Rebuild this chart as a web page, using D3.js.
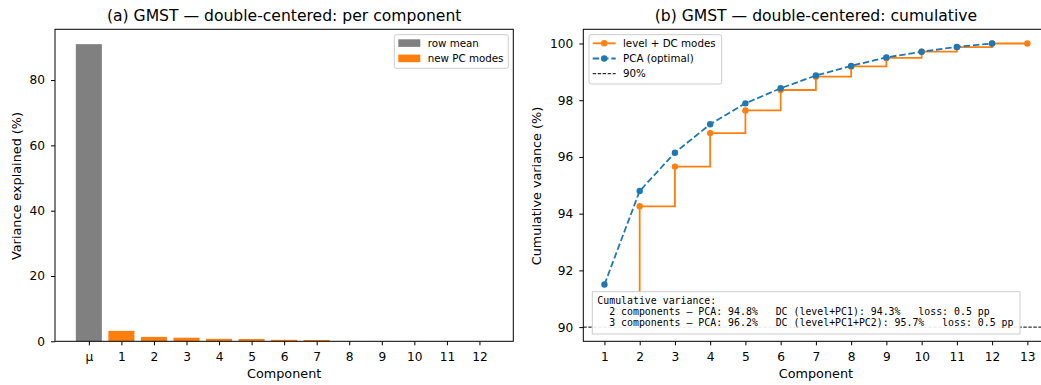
<!DOCTYPE html>
<html lang="en">
<head>
<meta charset="utf-8">
<script src="https://d3js.org/d3.v7.min.js"></script>
<style>
  body { margin: 0; background: #fff; }
  svg { font-family: "DejaVu Sans", sans-serif; display: block; }
  .mono { font-family: "DejaVu Sans Mono", monospace; }
</style>
</head>
<body>
<div id="chart"></div>
<script>
// ---- data ----
var barLabels = ["μ", "1", "2", "3", "4", "5", "6", "7", "8", "9", "10", "11", "12"];
var rowMean = 91.0;
var pcModes = [3.2, 1.35, 1.1, 0.75, 0.7, 0.45, 0.4, 0.05, 0.04, 0.03, 0.02, 0.01];

var dcComps = [1, 2, 3, 4, 5, 6, 7, 8, 9, 10, 11, 12, 13];
var dcCum = [91.0, 94.26, 95.66, 96.84, 97.64, 98.36, 98.83, 99.19, 99.49, 99.71, 99.87, 100.0, 100.0];
var pcaComps = [1, 2, 3, 4, 5, 6, 7, 8, 9, 10, 11, 12];
var pcaCum = [91.5, 94.8, 96.15, 97.15, 97.89, 98.42, 98.87, 99.21, 99.51, 99.71, 99.88, 100.0];
var yTicksA = [0, 20, 40, 60, 80];
var yTicksB = [90, 92, 94, 96, 98, 100];
var boxLines = [
  "Cumulative variance:",
  "  2 components \u2013 PCA: 94.8%   DC (level+PC1): 94.3%   loss: 0.5 pp",
  "  3 components \u2013 PCA: 96.2%   DC (level+PC1+PC2): 95.7%   loss: 0.5 pp"
];

var W = 1041, H = 385;
var orange = "#ff7f0e", blue = "#1f77b4", grey = "#808080";
var tickFont = "12.2px", labelFont = "12.8px";

var svg = d3.select("#chart").append("svg")
    .attr("width", W).attr("height", H);

function styleAxis(g) {
  g.select(".domain").remove();
  g.attr("font-family", "DejaVu Sans").attr("font-size", null);
  g.selectAll("text").style("font-size", tickFont).style("font-family", "DejaVu Sans");
}

// ---------- panel (a) ----------
var a = {left: 55, right: 513.3, top: 29.3, bottom: 341.3};
var xa = d3.scaleLinear().domain([-1.04, 13.04]).range([a.left, a.right]);
var ya = d3.scaleLinear().domain([0, 95.55]).range([a.bottom, a.top]);
var barVals = [rowMean].concat(pcModes);

var ga = svg.append("g");
ga.selectAll("rect.bar").data(barVals).enter().append("rect")
    .attr("class", "bar")
    .attr("x", function(d, i) { return xa(i - 0.4); })
    .attr("width", function(d, i) { return xa(i + 0.4) - xa(i - 0.4); })
    .attr("y", function(d) { return ya(d); })
    .attr("height", function(d) { return ya(0) - ya(d); })
    .attr("fill", function(d, i) { return i === 0 ? grey : orange; });

ga.append("g")
    .attr("transform", "translate(0," + a.bottom + ")")
    .call(d3.axisBottom(xa).tickValues(d3.range(barLabels.length))
        .tickFormat(function(i) { return barLabels[i]; }).tickSize(4).tickPadding(7))
    .call(styleAxis);
ga.append("g")
    .attr("transform", "translate(" + a.left + ",0)")
    .call(d3.axisLeft(ya).tickValues(yTicksA).tickSize(4).tickPadding(6))
    .call(styleAxis);
ga.append("rect")
    .attr("x", a.left).attr("y", a.top)
    .attr("width", a.right - a.left).attr("height", a.bottom - a.top)
    .attr("fill", "none").attr("stroke", "#000").attr("stroke-width", 1);

ga.append("text").attr("x", (a.left + a.right) / 2).attr("y", 21)
    .attr("text-anchor", "middle").style("font-size", "15.6px")
    .text("(a) GMST \u2014 double-centered: per component");
ga.append("text").attr("x", (a.left + a.right) / 2).attr("y", 378)
    .attr("text-anchor", "middle").style("font-size", labelFont).text("Component");
ga.append("text").attr("transform", "translate(21,186) rotate(-90)")
    .attr("text-anchor", "middle").style("font-size", labelFont)
    .text("Variance explained (%)");

// legend (a)
var lga = ga.append("g").attr("transform", "translate(394.3,34.7)");
lga.append("rect").attr("width", 114).attr("height", 33.6).attr("rx", 2)
    .attr("fill", "#fff").attr("fill-opacity", 0.8).attr("stroke", "#ccc");
[["row mean", grey], ["new PC modes", orange]].forEach(function(e, i) {
  lga.append("rect").attr("x", 4).attr("y", 4.6 + i * 15.3)
      .attr("width", 22).attr("height", 7.6).attr("fill", e[1]);
  lga.append("text").attr("x", 33.4).attr("y", 12 + i * 15.3)
      .style("font-size", "10.3px").text(e[0]);
});

// ---------- panel (b) ----------
var b = {left: 583.3, right: 1048.5, top: 29.3, bottom: 341.3};
var xb = d3.scaleLinear().domain([0.4, 13.6]).range([b.left, b.right]);
var yb = d3.scaleLinear().domain([89.5, 100.5]).range([b.bottom, b.top]);

var gb = svg.append("g");
gb.append("defs").append("clipPath").attr("id", "clipb")
  .append("rect").attr("x", b.left).attr("y", b.top)
  .attr("width", b.right - b.left).attr("height", b.bottom - b.top);

var plot = gb.append("g").attr("clip-path", "url(#clipb)");

// 90% reference
plot.append("line")
    .attr("x1", b.left).attr("x2", b.right)
    .attr("y1", yb(90)).attr("y2", yb(90))
    .attr("stroke", "#000").attr("stroke-width", 1)
    .attr("stroke-dasharray", "3.5,1.5");

var dcData = dcComps.map(function(c, i) { return [c, dcCum[i]]; });
var pcaData = pcaComps.map(function(c, i) { return [c, pcaCum[i]]; });

plot.append("path").datum(dcData)
    .attr("d", d3.line().x(function(d) { return xb(d[0]); })
        .y(function(d) { return yb(d[1]); }).curve(d3.curveStepAfter))
    .attr("fill", "none").attr("stroke", orange).attr("stroke-width", 1.8);
plot.selectAll("circle.dc").data(dcData).enter().append("circle")
    .attr("class", "dc")
    .attr("cx", function(d) { return xb(d[0]); })
    .attr("cy", function(d) { return yb(d[1]); })
    .attr("r", 3.2).attr("fill", orange);

plot.append("path").datum(pcaData)
    .attr("d", d3.line().x(function(d) { return xb(d[0]); })
        .y(function(d) { return yb(d[1]); }))
    .attr("fill", "none").attr("stroke", blue).attr("stroke-width", 1.8)
    .attr("stroke-dasharray", "6.5,2.8");
plot.selectAll("circle.pca").data(pcaData).enter().append("circle")
    .attr("class", "pca")
    .attr("cx", function(d) { return xb(d[0]); })
    .attr("cy", function(d) { return yb(d[1]); })
    .attr("r", 3.2).attr("fill", blue);

gb.append("g")
    .attr("transform", "translate(0," + b.bottom + ")")
    .call(d3.axisBottom(xb).tickValues(dcComps).tickFormat(d3.format("d"))
        .tickSize(4).tickPadding(7))
    .call(styleAxis);
gb.append("g")
    .attr("transform", "translate(" + b.left + ",0)")
    .call(d3.axisLeft(yb).tickValues(yTicksB).tickFormat(d3.format("d"))
        .tickSize(4).tickPadding(6))
    .call(styleAxis);
gb.append("rect")
    .attr("x", b.left).attr("y", b.top)
    .attr("width", b.right - b.left).attr("height", b.bottom - b.top)
    .attr("fill", "none").attr("stroke", "#000").attr("stroke-width", 1);

gb.append("text").attr("x", (b.left + b.right) / 2).attr("y", 21)
    .attr("text-anchor", "middle").style("font-size", "15.6px")
    .text("(b) GMST \u2014 double-centered: cumulative");
gb.append("text").attr("x", (b.left + b.right) / 2).attr("y", 378)
    .attr("text-anchor", "middle").style("font-size", labelFont).text("Component");
gb.append("text").attr("transform", "translate(541,186) rotate(-90)")
    .attr("text-anchor", "middle").style("font-size", labelFont)
    .text("Cumulative variance (%)");

// legend (b)
var lgb = gb.append("g").attr("transform", "translate(589,34.7)");
lgb.append("rect").attr("width", 132.7).attr("height", 49.3).attr("rx", 2)
    .attr("fill", "#fff").attr("fill-opacity", 0.8).attr("stroke", "#ccc");
[["level + DC modes", orange, null, true], ["PCA (optimal)", blue, "6.5,2.8", true],
 ["90%", "#000", "3.5,1.5", false]].forEach(function(e, i) {
  var yy = 8.6 + i * 15.2;
  lgb.append("line").attr("x1", 3.7).attr("x2", 26.7).attr("y1", yy).attr("y2", yy)
      .attr("stroke", e[1]).attr("stroke-width", e[3] ? 1.8 : 1)
      .attr("stroke-dasharray", e[2]);
  if (e[3]) lgb.append("circle").attr("cx", 15.2).attr("cy", yy).attr("r", 3.2).attr("fill", e[1]);
  lgb.append("text").attr("x", 34).attr("y", yy + 3.6)
      .style("font-size", "10.3px").text(e[0]);
});

// annotation box
var tb = gb.append("g").attr("transform", "translate(592.3,291.7)");
tb.append("rect").attr("width", 427.7).attr("height", 42.3)
    .attr("fill", "#fff").attr("fill-opacity", 0.9).attr("stroke", "#ccc");
boxLines.forEach(function(t, i) {
  tb.append("text").attr("class", "mono").attr("x", 5).attr("y", 12.6 + i * 11.1)
      .style("font-size", "9.9px").attr("xml:space", "preserve")
      .style("white-space", "pre").text(t);
});
</script>
</body>
</html>
